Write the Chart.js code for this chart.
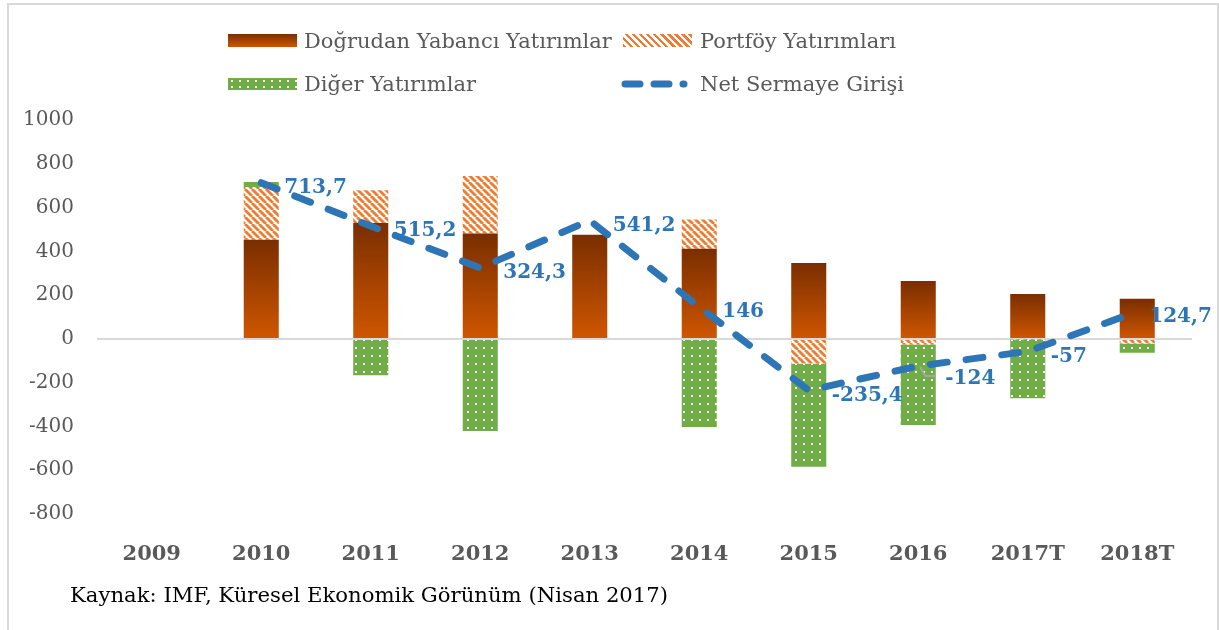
<!DOCTYPE html>
<html><head><meta charset="utf-8">
<script src="https://cdn.jsdelivr.net/npm/chart.js@4.4.1/dist/chart.umd.min.js"></script>
<style>
html,body{margin:0;padding:0;background:#fff;}
#wrap{position:relative;width:1219px;height:630px;overflow:hidden;font-family:"DejaVu Serif",serif;}
#frame{position:absolute;left:7px;top:3px;width:1212px;height:700px;border:2px solid #d9d9d9;box-sizing:border-box;}
canvas{position:absolute;left:0;top:0;}
.sw{position:absolute;width:69px;height:13px;}
.lt{position:absolute;font-size:21px;line-height:24px;color:#595959;white-space:nowrap;}
#sw1{left:228px;top:34px;background:linear-gradient(#7A2E00,#CF5600);}
#sw2{left:623px;top:34px;background:repeating-linear-gradient(45deg,#ED7D31 0 2.5px,#fff 2.5px 5px);}
#sw3{left:228px;top:78px;height:12px;background-color:#70AD47;background-image:radial-gradient(circle,#fff 1px,transparent 1.4px);background-size:8px 6px;}
#caption{position:absolute;left:70px;top:581px;font-size:21.2px;line-height:28px;color:#000;white-space:nowrap;}
</style></head>
<body><div id="wrap">
<div id="frame"></div>
<canvas id="c" width="1219" height="630"></canvas>
<div class="sw" id="sw1"></div><div class="lt" style="left:304px;top:29px;">Doğrudan Yabancı Yatırımlar</div>
<div class="sw" id="sw2"></div><div class="lt" style="left:700px;top:29px;">Portföy Yatırımları</div>
<div class="sw" id="sw3"></div><div class="lt" style="left:304px;top:72px;">Diğer Yatırımlar</div>
<svg style="position:absolute;left:610px;top:74px;" width="90" height="20"><line x1="15" y1="10" x2="74" y2="10" stroke="#2E75B6" stroke-width="7" stroke-linecap="round" stroke-dasharray="15 14"/></svg>
<div class="lt" style="left:700px;top:72px;">Net Sermaye Girişi</div>
<div id="caption">Kaynak: IMF, Küresel Ekonomik Görünüm (Nisan 2017)</div>
</div>
<script>
// ---- data ----
const categories = ['2009','2010','2011','2012','2013','2014','2015','2016','2017T','2018T'];
const fdi        = [null, 453, 530, 481, 476, 412, 347, 265, 205, 183];
const portfolio  = [null, 241, 149, 263, 0, 133, -113, -26, -3, -21];
const other      = [null, 23, -166, -421, 0, -402, -471, -367, -268, -42];
const netInflow  = [null, 713.7, 515.2, 324.3, 541.2, 146, -235.4, -124, -57, 124.7];
const yMin = -800, yMax = 1000, yStep = 200;

// ---- styles ----
const FONT = '"DejaVu Serif", serif';
const BLUE = '#2E75B6';
const LABEL_OFFSETS = {7:[27,13], 9:[12,5]};
const DEFAULT_OFFSET = [23,5];

function stripePattern(){
  const s = 7, c = document.createElement('canvas'); c.width = s; c.height = s;
  const g = c.getContext('2d');
  g.fillStyle = '#fff'; g.fillRect(0,0,s,s);
  g.strokeStyle = '#ED7D31'; g.lineWidth = 2.8;
  for (const x0 of [-s,0,s]) { g.beginPath(); g.moveTo(x0,0); g.lineTo(x0+s,s); g.stroke(); }
  return g.createPattern(c,'repeat');
}
function dotPattern(){
  const c = document.createElement('canvas'); c.width = 8; c.height = 8;
  const g = c.getContext('2d');
  g.fillStyle = '#70AD47'; g.fillRect(0,0,8,8);
  g.fillStyle = '#fff'; g.fillRect(3,3,2,2);
  return g.createPattern(c,'repeat');
}
const ctx2d = document.getElementById('c').getContext('2d');
const stripes = stripePattern(), dots = dotPattern();

function fdiGradient(context){
  const chart = context.chart;
  if (!chart.chartArea || context.type !== 'data') return '#B84A00';
  const y = chart.scales.y;
  const v = context.raw;
  const top = y.getPixelForValue(v), base = y.getPixelForValue(0);
  if (!isFinite(top) || top === base) return '#B84A00';
  const gr = chart.ctx.createLinearGradient(0, top, 0, base);
  gr.addColorStop(0, '#7A2E00');
  gr.addColorStop(1, '#CF5600');
  return gr;
}

const labelPlugin = {
  id: 'netLabels',
  afterDatasetsDraw(chart){
    const meta = chart.getDatasetMeta(3);
    const c = chart.ctx;
    c.save();
    c.font = 'bold 20px ' + FONT;
    c.fillStyle = BLUE;
    c.textBaseline = 'middle'; c.textAlign = 'left';
    meta.data.forEach((pt, i) => {
      const v = netInflow[i];
      if (v == null) return;
      const off = LABEL_OFFSETS[i] || DEFAULT_OFFSET;
      if (i === 7) {
        c.save(); c.strokeStyle = '#A6A6A6'; c.lineWidth = 2;
        c.beginPath(); c.moveTo(pt.x+2, pt.y+1); c.lineTo(pt.x+7, pt.y+10); c.lineTo(pt.x+17, pt.y+10); c.stroke();
        c.restore();
      }
      c.fillText(String(v).replace('.', ','), pt.x + off[0], pt.y + off[1]);
    });
    c.restore();
  }
};

new Chart(ctx2d, {
  data: {
    labels: categories,
    datasets: [
      {type:'bar', label:'Doğrudan Yabancı Yatırımlar', data: fdi, backgroundColor: fdiGradient, stack:'a', order:1, barPercentage:0.32, categoryPercentage:1},
      {type:'bar', label:'Portföy Yatırımları', data: portfolio, backgroundColor: stripes, stack:'a', order:1, barPercentage:0.32, categoryPercentage:1},
      {type:'bar', label:'Diğer Yatırımlar', data: other, backgroundColor: dots, stack:'a', order:1, barPercentage:0.32, categoryPercentage:1},
      {type:'line', label:'Net Sermaye Girişi', data: netInflow, stack:'net', order:0, borderColor: BLUE, borderWidth:7,
       borderDash:[17,19], borderCapStyle:'round', pointRadius:0, tension:0, fill:false}
    ]
  },
  options: {
    responsive:false, animation:false, devicePixelRatio:1,
    layout:{padding:{top:120,right:27,left:0,bottom:0}},
    plugins:{legend:{display:false}, tooltip:{enabled:false}},
    scales:{
      x:{stacked:true, grid:{display:false}, border:{display:false},
         ticks:{font:{family:FONT, size:21, weight:'bold'}, color:'#595959', padding:20, maxRotation:0, autoSkip:false},
         afterFit(s){ s.height = 116; }},
      y:{stacked:true, min:yMin, max:yMax, border:{display:false},
         grid:{drawTicks:false, color:(c)=> c.tick && c.tick.value === 0 ? '#D9D9D9' : 'rgba(0,0,0,0)', lineWidth:2},
         ticks:{stepSize:yStep, font:{family:FONT, size:20}, color:'#595959', padding:23, callback:(v)=>String(v)},
         afterFit(s){ s.width = 97; }}
    }
  },
  plugins:[labelPlugin]
});
</script>
</body></html>
